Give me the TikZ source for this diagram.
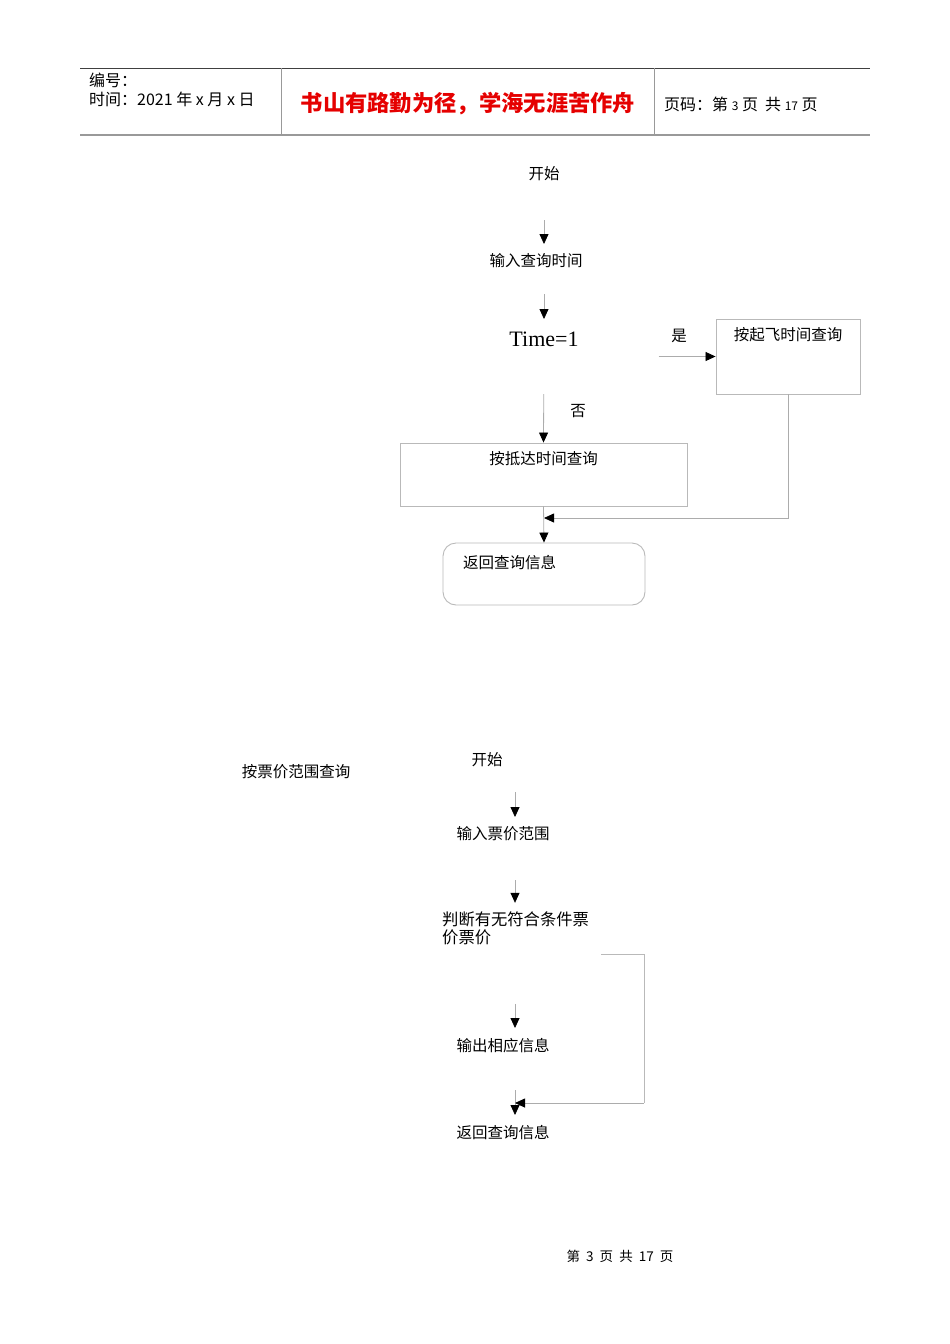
\documentclass[tikz,border=0pt]{standalone}
\usepackage{fontspec}
\setmainfont{Liberation Serif}
\newfontfamily\cjk{Noto Sans CJK SC}
\usetikzlibrary{arrows.meta,positioning}

\tikzset{
  txt/.style={font=\cjk\fontsize{15.5}{18}\selectfont, inner sep=0pt},
  hd/.style={font=\cjk\fontsize{16}{19}\selectfont, inner sep=0pt, anchor=west},
  box/.style={draw=gray!55, line width=0.9pt, inner sep=0pt},
  flow/.style={draw=gray!65, line width=0.8pt, -{Triangle[width=9pt,length=10pt,color=black]}},
  link/.style={draw=gray!55, line width=0.8pt}
}
\newcommand{\smalldigit}[1]{{\fontsize{12}{14}\selectfont #1}}

\begin{document}
\begin{tikzpicture}[x=1pt,y=-1pt]
\path[use as bounding box] (0,0) rectangle (950,1344);

% The header
\draw[black!75,line width=0.9pt] (80,68) -- (870,68);
\draw[gray!80,line width=1.6pt] (80,135) -- (870,135);
\foreach \xx in {281,654}
{
	\draw[gray!80,line width=0.9pt] (\xx,68) -- (\xx,135);
}
\node[hd] (num) at (89,80) {编号：};
\node[hd] (date) at (89,99) {时间：2021 年 x 月 x 日};
\node[font=\cjk\bfseries\fontsize{22.3}{26}\selectfont, text=red!90!black, inner sep=0pt] (motto) at (468,104) {书山有路勤为径，学海无涯苦作舟};
\node[hd] (page) at (664,104) {页码：第 \smalldigit{3} 页\ \ 共 \smalldigit{17} 页};

% The first chart
\node[txt] (s1) at (544,174) {开始};
\node[txt] (in1) at (536,261) {输入查询时间};
\node[inner sep=0pt, font=\fontsize{22}{25}\selectfont] (t1) at (544,339) {Time=1};
\node[txt] (yes) at (679,336) {是};
\node[box, minimum width=144, minimum height=75] (fly) at (788,356.5) {};
\node[txt, below=9pt of fly.north] (flytxt) {按起飞时间查询};
\node[txt] (no) at (578,411) {否};
\node[box, minimum width=287, minimum height=63] (arr) at (543.5,474.5) {};
\node[txt, below=9pt of arr.north] (arrtxt) {按抵达时间查询};
\node[box, rounded corners=13pt, minimum width=202, minimum height=62] (ret1) at (544,574) {};
\node[txt, anchor=west] (rettxt) at (463,563) {返回查询信息};
\coordinate (j1) at (544,518);

\draw[flow, shorten <=46, shorten >=17] (s1.center) -- (in1.center -| s1.center);
\draw[flow, shorten <=33, shorten >=20] (in1.center -| s1.center) -- (t1.center);
\draw[flow] ([xshift=80pt]t1.east |- fly.west) -- (fly.west);
\draw[flow, shorten <=55] (t1.center) -- (arr.north);
\draw[flow] (arr.south) -- (ret1.north);
\draw[flow] (fly.south) |- (j1);

% The second chart
\coordinate (x2) at (515,0);
\node[font=\cjk\fontsize{15.5}{18}\selectfont, inner sep=0pt] (title2) at (296,772) {按票价范围查询};
\node[txt] (s2) at (487,760) {开始};
\node[txt] (in2) at (503,834) {输入票价范围};
\node[txt, anchor=north west, align=left, font=\cjk\fontsize{16.3}{18}\selectfont] (judge) at (442,912) {判断有无符合条件票\\价票价};
\node[txt] (out2) at (503,1046) {输出相应信息};
\node[txt] (ret2) at (503,1133) {返回查询信息};
\coordinate (lp) at (601,954);
\coordinate (lq) at (515,1103);

\draw[flow, shorten <=32, shorten >=17] (s2 -| x2) -- (in2 -| x2);
\draw[flow, shorten <=46, shorten >=26] (in2 -| x2) -- (judge.center -| x2);
\draw[flow, shorten <=75, shorten >=18] (judge.center -| x2) -- (out2 -| x2);
\draw[flow, shorten <=44, shorten >=18] (out2 -| x2) -- (ret2 -| x2);
\draw[link] (lp) -- ++(43,0) -- ++(0,149);
\draw[flow] ([xshift=129pt]lq) -- (lq);

% The footer
\node[font=\cjk\fontsize{13.5}{15}\selectfont, inner sep=0pt] (foot) at (620,1256) {第\ \ 3\ \ 页\ \ 共\ \ 17\ \ 页};

\end{tikzpicture}
\end{document}
